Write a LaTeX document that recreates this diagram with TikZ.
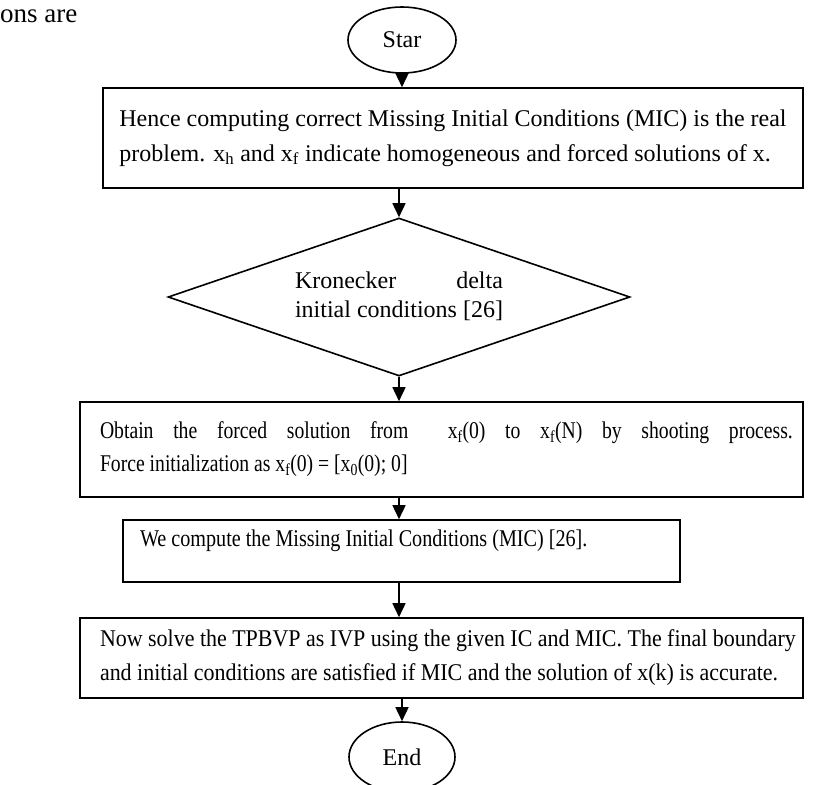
\documentclass[tikz,border=0pt]{standalone}
\usepackage{fontspec}
\setmainfont{Liberation Serif}
\usetikzlibrary{shapes.geometric,arrows.meta}
\newcommand{\narrow}[2]{\scalebox{#1}[1]{#2}}
\newcommand{\normspace}{\spaceskip=0pt\xspaceskip=0pt\relax}
\begin{document}
\begin{tikzpicture}[x=1pt,y=-1pt,
  box/.style={draw,line width=1.6pt,rectangle,inner sep=0pt},
  term/.style={draw,line width=1.6pt,ellipse,inner sep=0pt},
  flow/.style={line width=1.6pt,-{Triangle[width=13pt,length=14pt]}}]
\useasboundingbox (0,0) rectangle (815,785);
\fill[white] (0,0) rectangle (815,785);
\node[anchor=base west,font=\fontsize{27}{30}\selectfont,inner sep=0pt] (frag) at (0,22) {ons are};
\node[term,minimum width=108,minimum height=66,font=\fontsize{24}{29}\selectfont] (start) at (402,40) {Star};
\node[box,minimum width=700,minimum height=100,align=left,font=\fontsize{24}{35}\selectfont] (b1) at (453,138)
  {Hence computing correct Missing Initial Conditions (MIC) is the real\\problem. x\textsubscript{h} and x\textsubscript{f} indicate homogeneous and forced solutions of x.};
\node[draw,line width=1.6pt,diamond,aspect=2.92,minimum width=462,minimum height=158,inner sep=0pt,font=\fontsize{24}{29}\selectfont] (d) at (399,297)
  {\begin{tabular}{@{}l@{}}Kronecker\hfill delta\\initial conditions [26]\end{tabular}};
\node[box,minimum width=723,minimum height=95,text width=703,inner xsep=10,align=left,font=\fontsize{24}{33}\selectfont] (b2) at (441.5,449.5)
  {\normspace\hspace*{10pt}\narrow{0.82}{\makebox[845pt][s]{\normspace Obtain the forced solution from\ \ x\textsubscript{f}(0) to x\textsubscript{f}(N) by shooting process.}}\\
   \hspace*{10pt}\narrow{0.82}{Force initialization as x\textsubscript{f}(0) = [x\textsubscript{0}(0); 0]}};
\node[box,minimum width=557,minimum height=62,text width=523,inner xsep=17,align=left,text height=17,text depth=27,font=\fontsize{24}{28}\selectfont] (b3) at (401.5,551)
  {\normspace\narrow{0.84}{We compute the Missing Initial Conditions (MIC) [26].}};
\node[box,minimum width=723,minimum height=80,text width=703,inner xsep=10,align=left,font=\fontsize{24}{34}\selectfont] (b4) at (441.5,658)
  {\normspace\hspace*{10pt}\narrow{0.915}{Now solve the TPBVP as IVP using the given IC and MIC. The final boundary}\\
   \hspace*{10pt}\narrow{0.915}{and initial conditions are satisfied if MIC and the solution of x(k) is accurate.}};
\node[term,minimum width=106,minimum height=70,font=\fontsize{24}{29}\selectfont] (end) at (402,757) {End};
\draw[flow] (start.south) -- (start.south |- b1.north);
\draw[flow] (b1.south -| d.north) -- (d.north);
\draw[flow] (d.south) -- (d.south |- b2.north);
\draw[flow] (b2.south -| d.south) -- (b3.north -| d.south);
\draw[flow] (b3.south -| d.south) -- (b4.north -| d.south);
\draw[flow] (b4.south -| end.north) -- (end.north);
\end{tikzpicture}
\end{document}
